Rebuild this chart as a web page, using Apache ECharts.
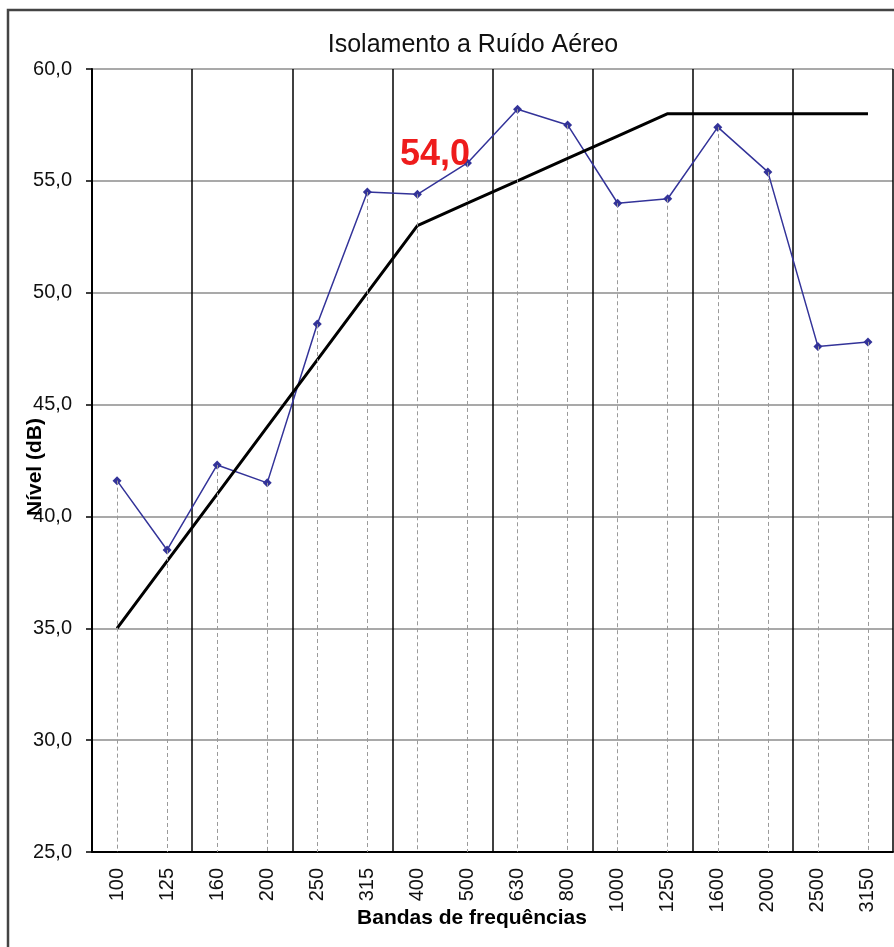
<!DOCTYPE html>
<html>
<head>
<meta charset="utf-8">
<title>Isolamento a Ruído Aéreo</title>
<script src="https://cdn.jsdelivr.net/npm/echarts@6/dist/echarts.min.js"></script>
<style>
  html, body { margin: 0; padding: 0; background: #fff; }
  #chart { width: 894px; height: 947px; }
</style>
</head>
<body>
<div id="chart"></div>
<script>
// bandas de terço de oitava (Hz)
const bandas = ['100', '125', '160', '200', '250', '315', '400', '500', '630', '800',
  '1000', '1250', '1600', '2000', '2500', '3150']
// isolamento medido (dB)
const medido = [41.6, 38.5, 42.3, 41.5, 48.6, 54.5, 54.4, 55.8, 58.2, 57.5,
  54.0, 54.2, 57.4, 55.4, 47.6, 47.8]
// curva de referência ajustada (dB)
const referencia = [35, 38, 41, 44, 47, 50, 53, 54, 55, 56, 57, 58, 58, 58, 58, 58]
// índice Rw
const rw = 54.0
const yTicks = [25, 30, 35, 40, 45, 50, 55, 60]

const fonte = 'Liberation Sans, Arial, sans-serif'
const fmt = v => v.toFixed(1).replace('.', ',')
const cadaDuas = i => i % 2 === 0 // linha vertical a cada 2 bandas

const chart = echarts.init(document.getElementById('chart'))

chart.setOption({
  animation: false,
  backgroundColor: '#fff',
  title: {
    text: 'Isolamento a Ruído Aéreo',
    left: 468,
    top: 28,
    textAlign: 'center',
    textStyle: {
      fontFamily: fonte,
      fontSize: 25,
      fontWeight: 'normal',
      color: '#111'
    }
  },
  graphic: [
    { // moldura
      type: 'rect',
      shape: { x: 8, y: 10, width: 1000, height: 1000 },
      style: { fill: 'none', stroke: '#444', lineWidth: 2.5 },
      silent: true
    },
    {
      type: 'text',
      x: 35,
      y: 467,
      rotation: Math.PI / 2,
      style: {
        text: 'Nível (dB)',
        fontFamily: fonte,
        fontSize: 21,
        fontWeight: 'bold',
        fill: '#000',
        align: 'center',
        verticalAlign: 'middle'
      },
      z: 10
    },
    {
      type: 'text',
      x: 472,
      y: 918,
      style: {
        text: 'Bandas de frequências',
        fontFamily: fonte,
        fontSize: 21,
        fontWeight: 'bold',
        fill: '#000',
        align: 'center',
        verticalAlign: 'middle'
      }
    },
    {
      type: 'text',
      x: 400,
      y: 155,
      style: {
        text: fmt(rw),
        fontFamily: fonte,
        fontSize: 36,
        fontWeight: 'bold',
        fill: '#ee1c1c',
        align: 'left',
        verticalAlign: 'middle'
      },
      z: 10
    }
  ],
  grid: {
    left: 92,
    top: 69,
    width: 801,
    height: 783
  },
  xAxis: {
    type: 'category',
    data: bandas,
    boundaryGap: true,
    axisLine: { lineStyle: { color: '#000', width: 2 } },
    axisTick: { interval: cadaDuas, length: 9, lineStyle: { color: '#000', width: 1.5 } },
    axisLabel: {
      interval: 0,
      rotate: 90,
      margin: 16,
      fontFamily: fonte,
      fontSize: 20,
      color: '#111'
    },
    splitLine: {
      show: true,
      interval: cadaDuas,
      lineStyle: { color: '#000', width: 1.5 }
    }
  },
  yAxis: {
    type: 'value',
    min: yTicks[0],
    max: yTicks[yTicks.length - 1],
    interval: 5,
    axisLine: { show: true, lineStyle: { color: '#000', width: 2 } },
    axisTick: { show: true, length: 6, lineStyle: { color: '#000', width: 1.5 } },
    axisLabel: {
      margin: 20,
      fontFamily: fonte,
      fontSize: 20,
      color: '#111',
      formatter: v => fmt(v)
    },
    splitLine: { lineStyle: { color: '#8c8c8c', width: 1.5 } }
  },
  series: [
    {
      name: 'Medido',
      type: 'line',
      data: medido,
      symbol: 'diamond',
      symbolSize: 9,
      itemStyle: { color: '#333399' },
      lineStyle: { color: '#333399', width: 1.5 },
      z: 3,
      markLine: {
        silent: true,
        symbol: ['none', 'none'],
        label: { show: false },
        lineStyle: { color: '#9a9a9a', width: 1, type: [4, 3] },
        data: bandas.map((b, i) => [{ coord: [b, medido[i]] }, { coord: [b, yTicks[0]] }])
      }
    },
    {
      name: 'Referência',
      type: 'line',
      data: referencia,
      symbol: 'none',
      lineStyle: { color: '#000', width: 3 },
      z: 4
    }
  ]
})
</script>
</body>
</html>
